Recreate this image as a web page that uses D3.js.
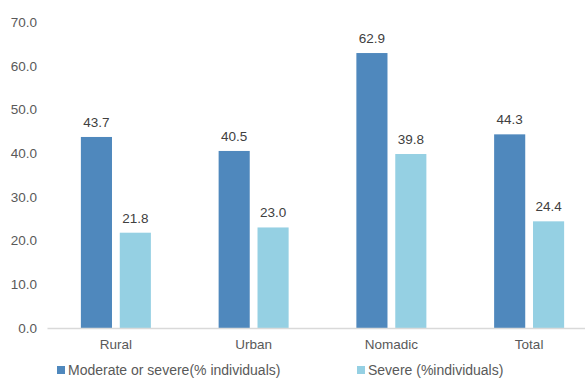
<!DOCTYPE html>
<html>
<head>
<meta charset="utf-8">
<script src="https://cdn.jsdelivr.net/npm/d3@7"></script>
<style>
  html, body { margin: 0; padding: 0; background: #fff; }
  svg { display: block; font-family: "Liberation Sans", Arial, sans-serif; }
</style>
</head>
<body>
<svg id="chart" width="585" height="378"></svg>
<script>
// Share of individuals by settlement type
const categories = ["Rural", "Urban", "Nomadic", "Total"];
const seriesNames = ["Moderate or severe(% individuals)", "Severe (%individuals)"];
const moderateOrSevere = [43.7, 40.5, 62.9, 44.3];
const severe = [21.8, 23.0, 39.8, 24.4];
const yTicks = [0, 10, 20, 30, 40, 50, 60, 70];
const colors = ["#4f88bd", "#95d0e3"];

const svg = d3.select("#chart");
const baseline = 328, plotTop = 22;

const x = d3.scaleBand().domain(categories).range([47, 598]).paddingInner(0).paddingOuter(0);
const y = d3.scaleLinear().domain([0, 70]).range([baseline, plotTop]);
const inner = d3.scaleBand().domain([0, 1]).range([0, 70]).paddingInner(0.2);

const groupOffset = (x.bandwidth() - 70) / 2;

// y-axis labels
const yAxis = d3.axisLeft(y).tickValues(yTicks).tickFormat(d3.format(".1f")).tickSize(0).tickPadding(0);
svg.append("g").attr("transform", "translate(37,0)").call(yAxis)
  .call(g => g.select(".domain").remove())
  .call(g => g.selectAll("text").attr("fill", "#595959").attr("font-size", 13.5).attr("font-family", "Liberation Sans, Arial, sans-serif"));

// bars
const rows = categories.map((c, i) => ({ c, vals: [moderateOrSevere[i], severe[i]] }));
const groups = svg.append("g").selectAll("g").data(rows).join("g")
  .attr("transform", d => `translate(${x(d.c) + groupOffset},0)`);

groups.selectAll("rect").data(d => d.vals.map((v, k) => ({ v, k }))).join("rect")
  .attr("x", d => inner(d.k))
  .attr("width", inner.bandwidth())
  .attr("y", d => y(d.v))
  .attr("height", d => baseline - y(d.v))
  .attr("fill", d => colors[d.k]);

groups.selectAll("text.val").data(d => d.vals.map((v, k) => ({ v, k }))).join("text")
  .attr("class", "val")
  .attr("x", d => inner(d.k) + inner.bandwidth() / 2)
  .attr("y", d => y(d.v) - 10)
  .attr("text-anchor", "middle")
  .attr("font-size", 13.5)
  .attr("fill", "#404040")
  .text(d => d3.format(".1f")(d.v));

// x axis
const xAxis = d3.axisBottom(x).tickSize(0).tickPadding(11);
svg.append("g").attr("transform", `translate(0,${baseline})`).call(xAxis)
  .call(g => g.select(".domain").attr("stroke", "#d9d9d9").attr("stroke-width", 1.5))
  .call(g => g.selectAll("text").attr("fill", "#595959").attr("font-size", 13.5).attr("font-family", "Liberation Sans, Arial, sans-serif"));

// legend
const legendX = [57, 357];
const legend = svg.append("g").selectAll("g").data(seriesNames).join("g")
  .attr("transform", (d, i) => `translate(${legendX[i]},366)`);
legend.append("rect").attr("width", 8).attr("height", 8).attr("fill", (d, i) => colors[i]);
legend.append("text").attr("x", 11).attr("y", 8.5).attr("font-size", 14).attr("fill", "#595959").text(d => d);
</script>
</body>
</html>
